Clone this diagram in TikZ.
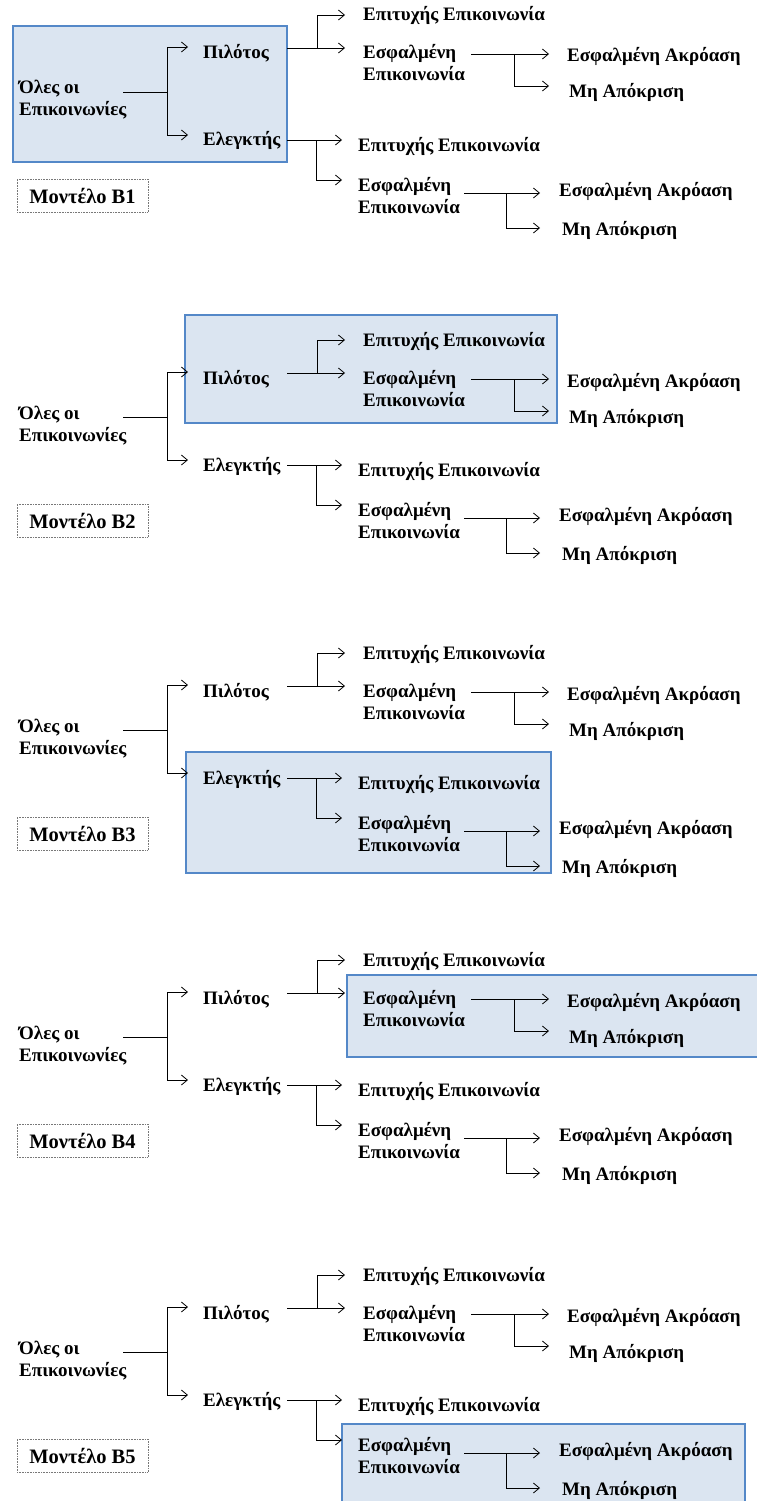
\documentclass[tikz,border=0pt]{standalone}
\usepackage{fontspec}
\setmainfont{Liberation Serif}
\usetikzlibrary{arrows.meta}
\definecolor{boxfill}{RGB}{219,229,241}
\definecolor{boxline}{RGB}{84,136,200}
\definecolor{lblline}{RGB}{120,120,120}
\tikzset{
  txt/.style={anchor=base west, inner sep=0pt, font=\bfseries\fontsize{19}{22}\selectfont},
  conn/.style={draw=black, line width=0.8pt},
  arr/.style={conn, -{Straight Barb[length=6pt,width=10pt]}},
  hl/.style={fill=boxfill, draw=boxline, line width=2.4pt},
  model/.style={draw=lblline, densely dotted, line width=0.6pt, inner sep=0pt,
    minimum width=131pt, minimum height=33pt, font=\bfseries\fontsize{20.5}{24}\selectfont}
}
\newcommand{\twoline}[2]{\vtop{\hbox{#1}\hbox{#2}}}
\newcommand{\drawpanel}[3]{%
\begin{scope}[shift={(0,#2)}]
  \node[txt] (#1-all) at (19,79) {\twoline{Όλες οι}{Επικοινωνίες}};
  \node[txt] (#1-pil) at (203,44) {Πιλότος};
  \node[txt] (#1-ele) at (203,131) {Ελεγκτής};
  \node[txt] (#1-succA) at (363,6) {Επιτυχής Επικοινωνία};
  \node[txt] (#1-errA) at (363,44) {\twoline{Εσφαλμένη}{Επικοινωνία}};
  \node[txt] (#1-hearA) at (567,47) {Εσφαλμένη Ακρόαση};
  \node[txt] (#1-noA) at (569,83) {Μη Απόκριση};
  \node[txt] (#1-succB) at (358,136) {Επιτυχής Επικοινωνία};
  \node[txt] (#1-errB) at (358,176) {\twoline{Εσφαλμένη}{Επικοινωνία}};
  \node[txt] (#1-hearB) at (559,181) {Εσφαλμένη Ακρόαση};
  \node[txt] (#1-noB) at (562,220) {Μη Απόκριση};
  \node[model] (#1-label) at (82.5,180.5) {Μοντέλο Β#3};
  % connector points
  \coordinate (#1-allout) at (123,77);
  \coordinate (#1-j1) at (167,77);
  \coordinate (#1-pilin) at (188,32);
  \coordinate (#1-elein) at (188,120);
  \coordinate (#1-pilout) at (287,33);
  \coordinate (#1-j2) at (317,33);
  \coordinate (#1-succAin) at (345,0);
  \coordinate (#1-errAin) at (345,33);
  \coordinate (#1-errAout) at (471,39);
  \coordinate (#1-j3) at (514,39);
  \coordinate (#1-hearAin) at (549,39);
  \coordinate (#1-noAin) at (549,71);
  \coordinate (#1-eleout) at (287,125);
  \coordinate (#1-j4) at (316,125);
  \coordinate (#1-succBin) at (342,125);
  \coordinate (#1-errBin) at (342,165);
  \coordinate (#1-errBout) at (464,178);
  \coordinate (#1-j5) at (506,178);
  \coordinate (#1-hearBin) at (540,178);
  \coordinate (#1-noBin) at (540,213);
  % connectors
  \draw[conn] (#1-allout) -- (#1-j1);
  \draw[arr] (#1-j1) |- (#1-pilin);
  \draw[arr] (#1-j1) |- (#1-elein);
  \draw[arr] (#1-pilout) -- (#1-errAin);
  \draw[arr] (#1-j2) |- (#1-succAin);
  \draw[arr] (#1-errAout) -- (#1-hearAin);
  \draw[arr] (#1-j3) |- (#1-noAin);
  \draw[arr] (#1-eleout) -- (#1-succBin);
  \draw[arr] (#1-j4) |- (#1-errBin);
  \draw[arr] (#1-errBout) -- (#1-hearBin);
  \draw[arr] (#1-j5) |- (#1-noBin);
\end{scope}}
\begin{document}
\begin{tikzpicture}[x=1pt,y=-1pt]
  \useasboundingbox[fill=white] (0,0) rectangle (756,1501);
  % highlighted regions
  \draw[hl] (13,26) rectangle (287,162);
  \draw[hl] (185,315) rectangle (557,423);
  \draw[hl] (186,752) rectangle (551,873);
  \draw[hl] (347,975) rectangle (770,1057);
  \draw[hl] (342,1424) rectangle (745,1512);
  % panels
  \drawpanel{p1}{15}{1}
  \drawpanel{p2}{340}{2}
  \drawpanel{p3}{653}{3}
  \drawpanel{p4}{960}{4}
  \drawpanel{p5}{1275}{5}
\end{tikzpicture}
\end{document}
